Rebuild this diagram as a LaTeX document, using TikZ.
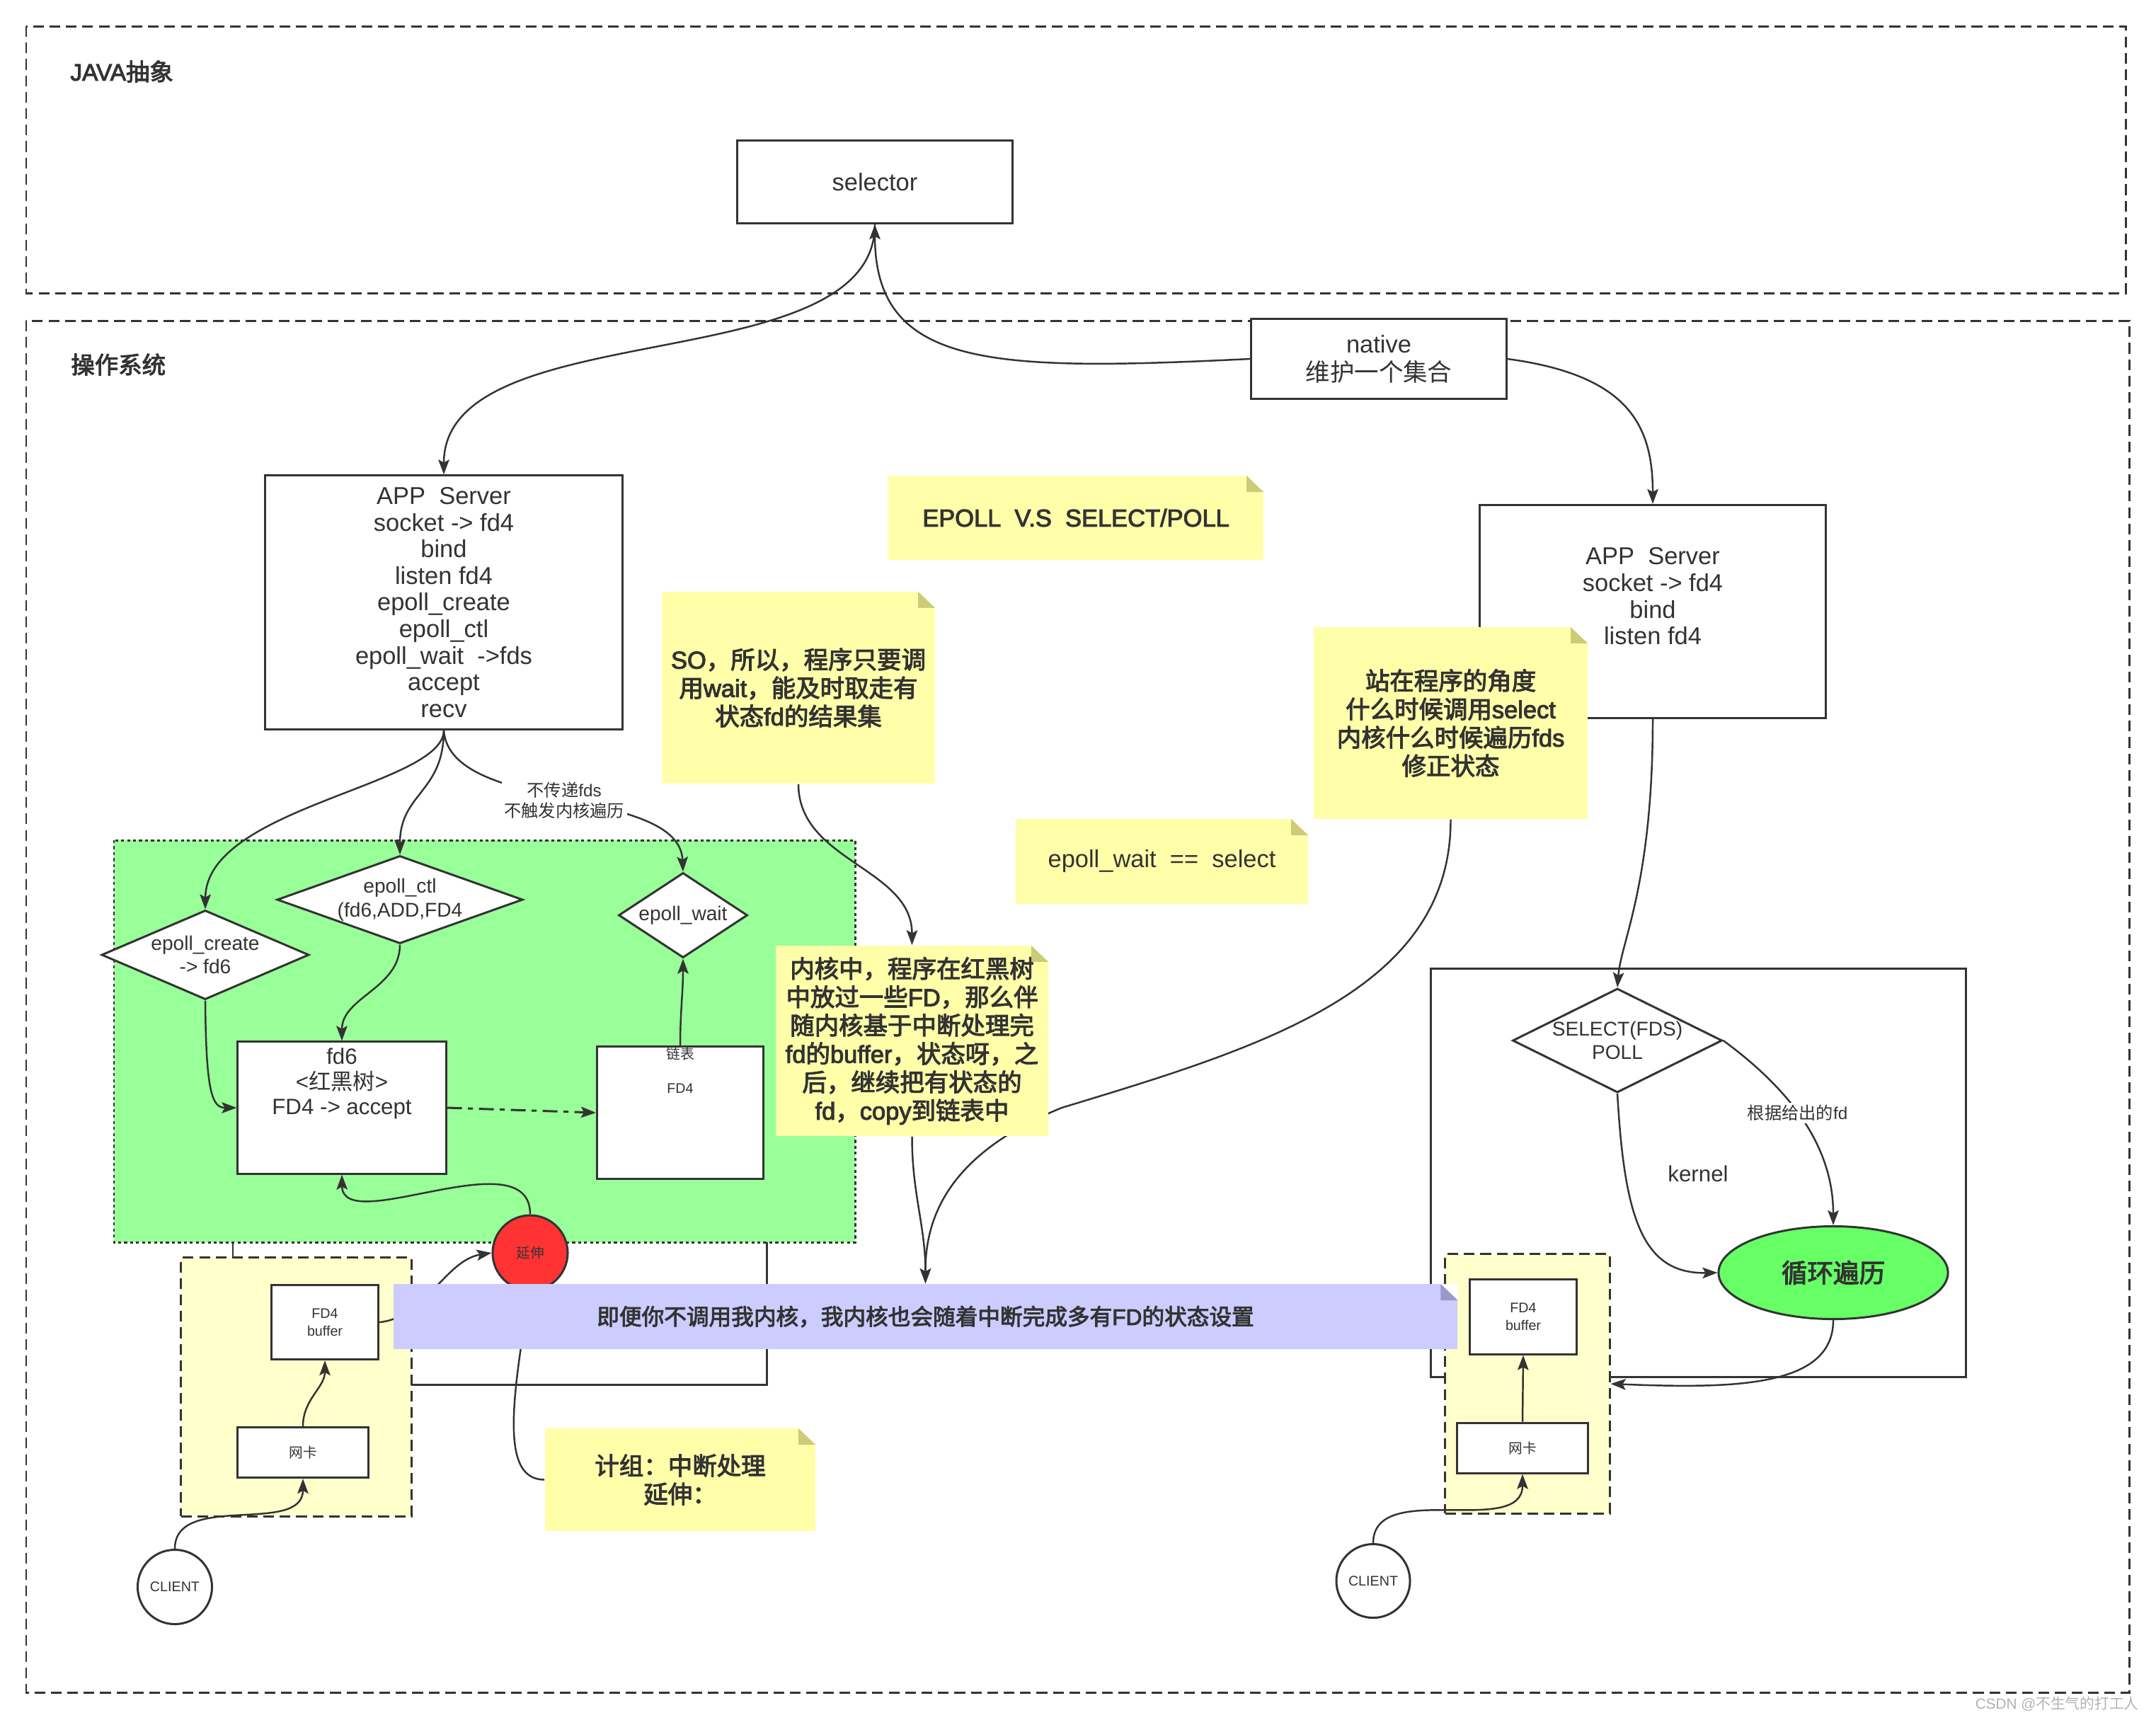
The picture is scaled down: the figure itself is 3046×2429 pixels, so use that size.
\documentclass[tikz,border=0pt]{standalone}
\usepackage{fontspec}
\setmainfont{Liberation Sans}[BoldFont={Liberation Sans}, BoldFeatures={FakeBold=3}]
\newfontfamily\zh{Noto Sans CJK SC}[BoldFont={Noto Sans CJK SC}, BoldFeatures={FakeBold=3}]
\usetikzlibrary{shapes.geometric,arrows.meta}

\definecolor{ink}{HTML}{333333}
\definecolor{notey}{HTML}{FFFFAA}
\definecolor{foldy}{HTML}{CCCC77}
\definecolor{noteb}{HTML}{CCCCFF}
\definecolor{foldb}{HTML}{9999CC}
\definecolor{kgreen}{HTML}{99FF99}
\definecolor{nicy}{HTML}{FFFFCC}
\definecolor{loopg}{HTML}{66FF66}
\definecolor{yanred}{HTML}{FF3333}

\newcommand\fnMain{\fontsize{9.8pt}{10.7pt}\selectfont}
\newcommand\fnNote{\fontsize{9.8pt}{11.4pt}\selectfont\bfseries}
\newcommand\fnBlue{\fontsize{9pt}{10.5pt}\selectfont\bfseries}
\newcommand\fnMid{\fontsize{8.9pt}{10pt}\selectfont}
\newcommand\fnDia{\fontsize{8pt}{9.6pt}\selectfont}
\newcommand\fnLbl{\fontsize{6.9pt}{8.2pt}\selectfont}
\newcommand\fnSmall{\fontsize{5.6pt}{7.1pt}\selectfont}
\newcommand\fnHead{\fontsize{9.5pt}{11pt}\selectfont\bfseries}
\newcommand\fnLoop{\fontsize{10.4pt}{12pt}\selectfont\bfseries}

\pgfdeclarelayer{back}
\pgfdeclarelayer{links}
\pgfsetlayers{back,links,main}

\begin{document}
\begin{tikzpicture}[x=0.01cm, y=-0.01cm,
    box/.style = {draw=ink, line width=0.85pt, fill=white, text=ink, align=center, inner sep=0pt, font=\fnMain},
    dia/.style = {box, diamond, font=\fnDia},
    dogear/.style = {path picture={
        \fill[white] ([xshift=-0.24cm]path picture bounding box.north east) -- (path picture bounding box.north east)
          -- ([yshift=-0.23cm]path picture bounding box.north east) -- cycle;
        \fill[#1] ([xshift=-0.24cm]path picture bounding box.north east) -- ([xshift=-0.24cm,yshift=-0.23cm]path picture bounding box.north east)
          -- ([yshift=-0.23cm]path picture bounding box.north east) -- cycle;}},
    note/.style = {fill=notey, dogear=foldy, text=ink, align=center, inner sep=0pt, font=\fnNote},
    outerframe/.style = {draw=ink, line width=0.85pt, dash pattern=on 4.3pt off 2.3pt},
    nicreg/.style = {outerframe, fill=nicy, inner sep=0pt},
    link/.style = {draw=ink, line width=0.7pt},
    arr/.style = {link, -{Stealth[length=6pt, width=4.4pt, inset=1.2pt]}},
    elbl/.style = {fill=white, text=ink, font=\fnLbl, align=center, inner sep=1pt}]

  \useasboundingbox (0,0) rectangle (3046,2429);

  % containers
  \begin{pgfonlayer}{back}
    \draw[outerframe] (37,37) rectangle (3003,414);
    \draw[outerframe] (37,453) rectangle (3008,2391);
    \draw[ink, line width=0.85pt] (329,1700) rectangle (1083,1956);
    \draw[ink, line width=0.85pt, dash pattern=on 1.2pt off 1.2pt, fill=kgreen] (161,1187) rectangle (1208,1755);
    \node[nicreg, minimum width=3.25cm, minimum height=3.65cm] (kbL) at (418.5,1959.5) {};
    \draw[ink, line width=0.85pt] (2021,1368) rectangle (2777,1945);
    \node[nicreg, minimum width=2.32cm, minimum height=3.66cm] (kbR) at (2158,1955) {};
  \end{pgfonlayer}

  \node[anchor=west, text=ink, font=\fnHead] (javaLbl) at (87,101) {JAVA{\zh 抽象}};
  \node[anchor=west, text=ink, font=\fnHead] (osLbl) at (88,515) {{\zh 操作系统}};

  % java side
  \node[box, minimum width=3.89cm, minimum height=1.17cm] (sel) at (1236,257) {selector};
  \node[box, font=\fontsize{9.8pt}{11.4pt}\selectfont, minimum width=3.60cm, minimum height=1.13cm] (nat) at (1948,507) {native\\{\zh 维护一个集合}};

  % epoll side
  \node[box, minimum width=5.05cm, minimum height=3.58cm] (appL) at (627,851)
    {APP\ \ Server\\socket -> fd4\\bind\\listen fd4\\epoll\_create\\epoll\_ctl\\epoll\_wait\ \ ->fds\\accept\\recv};
  \node[dia, aspect=2.33, minimum width=2.93cm, minimum height=1.26cm] (create) at (290,1349) {epoll\_create\\-> fd6};
  \node[dia, aspect=2.8, minimum width=3.47cm, minimum height=1.24cm] (ctl) at (565,1271) {epoll\_ctl\\(fd6,ADD,FD4};
  \node[dia, aspect=1.52, minimum width=1.82cm, minimum height=1.20cm] (wait) at (965,1293) {epoll\_wait};
  \node[box, font=\fnMid, minimum width=2.94cm, minimum height=1.86cm] (rbt) at (483,1565)
    {fd6\\<{\zh 红黑树}>\\FD4 -> accept\\[8.2pt]\strut};
  \node[box, font=\fnSmall, minimum width=2.35cm, minimum height=1.87cm] (list) at (961,1572)
    {{\zh 链表}\\[6.6pt]FD4\\[24.8pt]\strut};
  \node[box, circle, fill=yanred, font=\fnSmall, minimum size=1.06cm] (yan) at (749,1770) {{\zh 延伸}};
  \node[box, font=\fnSmall, minimum width=1.51cm, minimum height=1.05cm] (bufL) at (459,1868) {FD4\\buffer};
  \node[box, font=\fnSmall, minimum width=1.84cm, minimum height=0.71cm] (nicL) at (428,2052) {{\zh 网卡}};
  \node[box, circle, font=\fnSmall, minimum size=1.05cm] (cliL) at (247,2242) {CLIENT};

  % select side
  \node[box, minimum width=4.89cm, minimum height=3.01cm] (appR) at (2335,864)
    {APP\ \ Server\\socket -> fd4\\bind\\listen fd4\\[-1.5pt]\strut};
  \node[dia, aspect=2.0, minimum width=2.96cm, minimum height=1.47cm] (seld) at (2285,1470) {SELECT(FDS)\\POLL};
  \node[box, ellipse, fill=loopg, font=\fnLoop, minimum width=3.24cm, minimum height=1.31cm] (loop) at (2590,1798) {{\zh 循环遍历}};
  \node[text=ink, font=\fnMid] (kern) at (2399,1658) {kernel};
  \node[box, font=\fnSmall, minimum width=1.51cm, minimum height=1.06cm] (bufR) at (2152,1860) {FD4\\buffer};
  \node[box, font=\fnSmall, minimum width=1.84cm, minimum height=0.71cm] (nicR) at (2151,2045.5) {{\zh 网卡}};
  \node[box, circle, font=\fnSmall, minimum size=1.04cm] (cliR) at (1940,2233.5) {CLIENT};

  % notes
  \node[note, minimum width=5.30cm, minimum height=1.19cm] (vs) at (1520,731.5) {EPOLL\ \ V.S\ \ SELECT/POLL};
  \node[note, minimum width=3.86cm, minimum height=2.71cm] (so) at (1128,971.5)
    {SO{\zh ，所以，程序只要调}\\{\zh 用}wait{\zh ，能及时取走有}\\{\zh 状态}fd{\zh 的结果集}};
  \node[note, minimum width=3.87cm, minimum height=2.71cm] (zz) at (2049.5,1021.5)
    {{\zh 站在程序的角度}\\{\zh 什么时候调用}select\\{\zh 内核什么时候遍历}fds\\{\zh 修正状态}};
  \node[note, font=\fnMain, minimum width=4.13cm, minimum height=1.20cm] (eq) at (1641.5,1217) {epoll\_wait\ \ ==\ \ select};
  \node[note, minimum width=3.85cm, minimum height=2.69cm] (kn) at (1288.5,1470.5)
    {{\zh 内核中，程序在红黑树}\\{\zh 中放过一些}FD{\zh ，那么伴}\\{\zh 随内核基于中断处理完}\\fd{\zh 的}buffer{\zh ，状态呀，之}\\{\zh 后，继续把有状态的}\\fd{\zh ，}copy{\zh 到链表中}};
  \node[note, fill=noteb, dogear=foldb, font=\fnBlue, minimum width=15.03cm, minimum height=0.92cm] (bl) at (1307.5,1860)
    {{\zh 即便你不调用我内核，我内核也会随着中断完成多有}FD{\zh 的状态设置}};
  \node[note, minimum width=3.82cm, minimum height=1.45cm] (jz) at (961,2090.5) {{\zh 计组：中断处理}\\{\zh 延伸：}};

  \node[anchor=east, text=black!30, font=\fontsize{5.9pt}{7pt}\selectfont] (mark) at (3034,2407) {CSDN @{\zh 不生气的打工人}};

  % connectors
  \begin{pgfonlayer}{links}
    \draw[arr] (sel.south) .. controls (1236,540) and (627,440) .. (appL.north);
    \draw[arr] (nat.west) .. controls (1400,525) and (1236,520) .. (sel.south);
    \draw[arr] (nat.east) .. controls (2300,530) and (2335,600) .. (appR.north);

    \draw[arr] (appL.south) .. controls (627,1110) and (291,1140) .. (create.north);
    \draw[arr] (appL.south) .. controls (627,1120) and (565,1120) .. (ctl.north);
    \draw[arr] (appL.south) .. controls (635,1150) and (960,1110) .. node[elbl] {{\zh 不传递}fds\\{\zh 不触发内核遍历}} (wait.north);
    \draw[arr] (create.south) .. controls (291,1545) and (300,1565) .. (rbt.west);
    \draw[arr] (ctl.south) to[out=-90, in=90] (rbt.north);
    \draw[arr, line width=0.85pt, dash pattern=on 6pt off 2.4pt on 2pt off 2.4pt] (rbt.east) -- (list.west);
    \draw[arr] (list.north) to[out=90, in=-90] (wait.south);
    \draw[arr] (yan.north) .. controls (749,1607) and (484,1748) .. (rbt.south);
    \draw[arr] (bufL.east) .. controls (600,1862) and (630,1780) .. (yan.west);
    \draw[link] (jz.west) .. controls (712,2090) and (718,2000) .. (yan.south);
    \draw[arr] (nicL.north) to[out=90, in=-90] (bufL.south);
    \draw[arr] (cliL.north) to[out=90, in=-90] (nicL.south);

    \draw[arr] (so.south) to[out=-90, in=90] (kn.north);
    \draw[arr] (kn.south) to[out=-90, in=90] (bl.north);
    \draw[arr] (zz.south) .. controls (2050,1400) and (1780,1480) .. (1500,1565)
      .. controls (1340,1630) and (1307,1720) .. (bl.north);

    \draw[arr] (appR.south) .. controls (2335,1250) and (2290,1330) .. (seld.north);
    \draw[arr] (seld.south) .. controls (2295,1720) and (2320,1800) .. (loop.west);
    \draw[arr] (seld.east) .. controls (2530,1540) and (2590,1620) .. node[elbl, pos=0.45] {{\zh 根据给出的}fd} (loop.north);
    \draw[arr] (loop.south) .. controls (2590,1960) and (2450,1962) .. (kbR.east);
    \draw[arr] (nicR.north) -- (bufR.south);
    \draw[arr] (cliR.north) to[out=90, in=-90] (nicR.south);
  \end{pgfonlayer}
\end{tikzpicture}
\end{document}
